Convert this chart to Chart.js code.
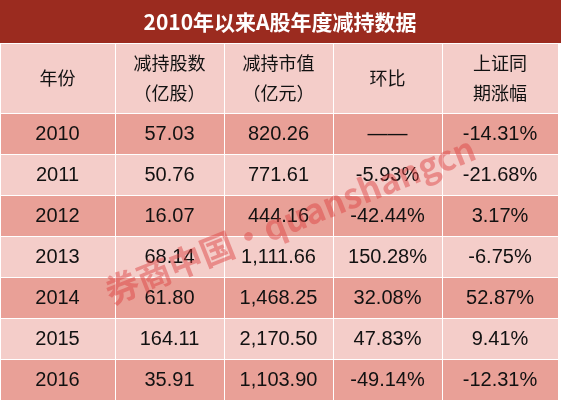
<!DOCTYPE html>
<html><head><meta charset="utf-8">
<script src="https://cdn.jsdelivr.net/npm/chart.js@4"></script>
<style>html,body{margin:0;padding:0;background:#fff}</style>
</head><body>
<canvas id="c" width="561" height="403"></canvas>
<script>
const title = "2010年以来A股年度减持数据";
const headers = [["年份"],["减持股数","（亿股）"],["减持市值","（亿元）"],["环比"],["上证同","期涨幅"]];
const years = ["2010","2011","2012","2013","2014","2015","2016"];
const shares = ["57.03","50.76","16.07","68.14","61.80","164.11","35.91"];
const marketValue = ["820.26","771.61","444.16","1,111.66","1,468.25","2,170.50","1,103.90"];
const momChange = ["——","-5.93%","-42.44%","150.28%","32.08%","47.83%","-49.14%"];
const shIndex = ["-14.31%","-21.68%","3.17%","-6.75%","52.87%","9.41%","-12.31%"];
const colEdges = [0,115,224,333,442,558];
const rowEdges = [0,43,113,154,195,236,277,318,359,400];

const tablePlugin = {
  id:'table',
  afterDraw(chart){
    const ctx = chart.ctx, X = chart.scales.x, Y = chart.scales.y;
    const px = v=>X.getPixelForValue(v), py = v=>Y.getPixelForValue(v);
    ctx.save();
    // title
    ctx.fillStyle = '#9b2b1f';
    ctx.fillRect(px(0),py(0),px(561)-px(0),py(43)-py(0));
    ctx.fillStyle='#fff'; ctx.font='bold 21px "Noto Sans CJK SC", sans-serif';
    ctx.textAlign='center'; ctx.textBaseline='middle';
    ctx.fillText(title, px(280), py(22));
    const cols = [years,shares,marketValue,momChange,shIndex];
    for(let r=0;r<8;r++){
      const y0=rowEdges[r+1], y1=rowEdges[r+2];
      for(let c=0;c<5;c++){
        const x0=colEdges[c], x1=colEdges[c+1];
        ctx.fillStyle = (r===0)?'#f4cdc9':(r%2===1?'#e9a097':'#f4cdc9');
        ctx.fillRect(px(x0)+1,py(y0)+1,px(x1)-px(x0)-1,py(y1)-py(y0)-1);
        ctx.fillStyle='#111';
        const cx=(px(x0)+px(x1))/2, cy=(py(y0)+py(y1))/2;
        if(r===0){
          ctx.font='18px "Noto Sans CJK SC", sans-serif';
          const lines=headers[c];
          lines.forEach((t,i)=>ctx.fillText(t,cx,cy+(i-(lines.length-1)/2)*30));
        } else {
          ctx.font='20px "Liberation Sans", "Noto Sans CJK SC", sans-serif';
          ctx.fillText(cols[c][r-1],cx,cy+1);
        }
      }
    }
    // watermark
    ctx.translate(px(290),py(220)); ctx.rotate(-0.38);
    ctx.fillStyle='rgba(220,60,60,0.45)';
    ctx.font='bold 34px "Noto Sans CJK SC", sans-serif';
    ctx.fillText('券商中国·quanshangcn',0,0);
    ctx.restore();
  }
};
new Chart(document.getElementById('c'),{
  type:'scatter',
  data:{datasets:[{data:[]}]},
  options:{responsive:false,animation:false,devicePixelRatio:1,
    layout:{padding:0},
    plugins:{legend:{display:false},tooltip:{enabled:false}},
    scales:{x:{type:'linear',min:0,max:561,display:false},
            y:{type:'linear',min:0,max:403,reverse:true,display:false}}},
  plugins:[tablePlugin]
});
</script></body></html>
